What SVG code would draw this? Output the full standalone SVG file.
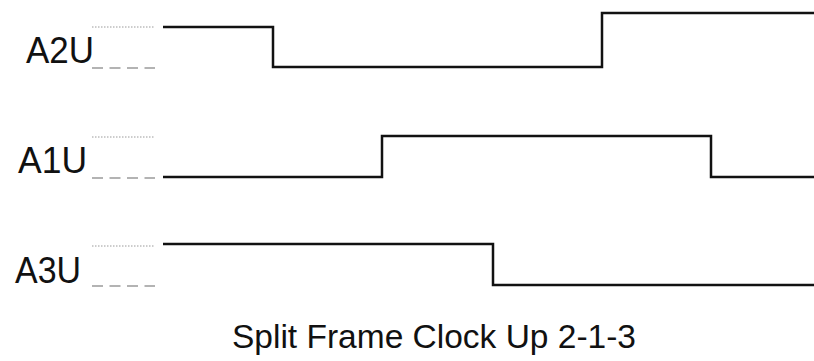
<svg xmlns="http://www.w3.org/2000/svg" width="814" height="361" viewBox="0 0 814 361">
<style>
.lbl{font-family:"Liberation Sans",Arial,sans-serif;font-size:37px;fill:#111}
.title{font-family:"Liberation Sans",Arial,sans-serif;font-size:33px;fill:#111}
.sig{fill:none;stroke:#111;stroke-width:2.5;stroke-linejoin:miter}
.hi{stroke:#9a9a9a;stroke-width:1;stroke-dasharray:1.5 1.5}
.lo{stroke:#9a9a9a;stroke-width:1.5;stroke-dasharray:11 6.5}
</style>
<rect width="814" height="361" fill="#fff"/>
<g id="A2U">
<text class="lbl" x="26" y="63" textLength="68" lengthAdjust="spacingAndGlyphs">A2U</text>
<line class="hi" x1="92" y1="27" x2="155" y2="27"/>
<line class="lo" x1="92" y1="68" x2="155" y2="68"/>
</g>
<g id="A1U">
<text class="lbl" x="18" y="173" textLength="69" lengthAdjust="spacingAndGlyphs">A1U</text>
<line class="hi" x1="92" y1="137" x2="155" y2="137"/>
<line class="lo" x1="92" y1="178" x2="155" y2="178"/>
</g>
<g id="A3U">
<text class="lbl" x="15" y="283" textLength="66" lengthAdjust="spacingAndGlyphs">A3U</text>
<line class="hi" x1="92" y1="246" x2="155" y2="246"/>
<line class="lo" x1="92" y1="286" x2="155" y2="286"/>
</g>
<g id="connectors">
<polyline class="sig" points="163,27 273,27 273,67 602,67 602,13 814,13"/>
<polyline class="sig" points="163,177 382,177 382,136 711,136 711,177 814,177"/>
<polyline class="sig" points="163,244 493,244 493,285 814,285"/>
</g>
<text class="title" x="232" y="348" textLength="404" lengthAdjust="spacingAndGlyphs">Split Frame Clock Up 2-1-3</text>
</svg>
